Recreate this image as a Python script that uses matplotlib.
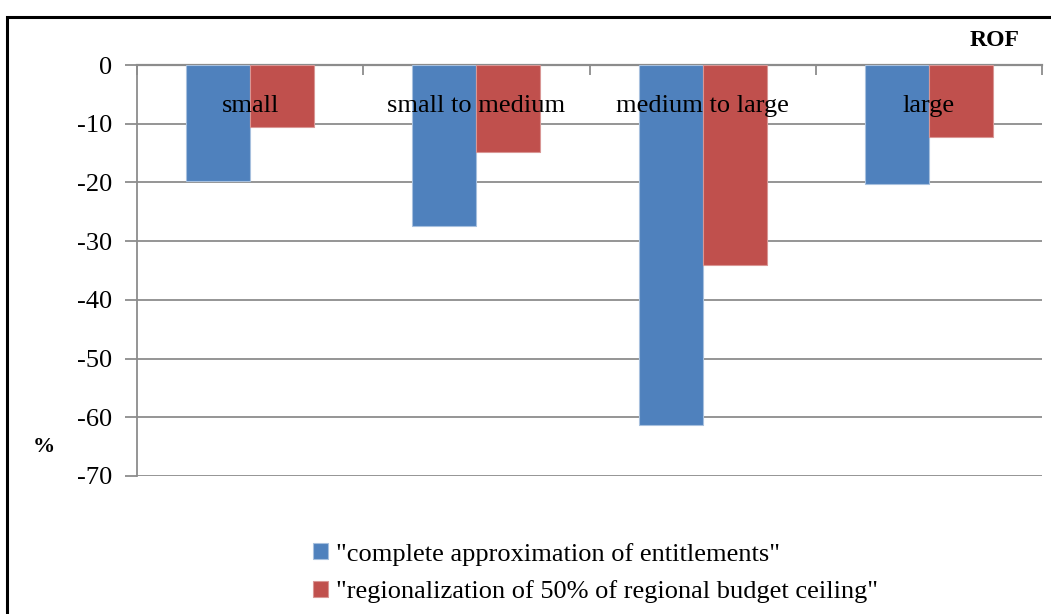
import matplotlib
matplotlib.use("Agg")
import matplotlib.pyplot as plt
import numpy as np
from matplotlib.patches import Rectangle

categories = ["small", "small to medium", "medium to large", "large"]
series_names = ['"complete approximation of entitlements"',
                '"regionalization of 50% of regional budget ceiling"']
complete_approx = [-19.8, -27.4, -61.3, -20.2]
regionalization = [-10.6, -14.9, -34.1, -12.3]
y_ticks = [0, -10, -20, -30, -40, -50, -60, -70]

plt.rcParams["font.family"] = ["Liberation Serif", "DejaVu Serif"]

W, H = 1051, 614
fig = plt.figure(figsize=(W / 100, H / 100), dpi=100)
ax = fig.add_axes([137 / W, 1 - 476 / H, (1042 - 137) / W, (476 - 65) / H])

x = np.arange(len(categories))
bw = 0.283
blue, red = "#4F81BD", "#C0504D"
b1 = ax.bar(x - bw / 2, complete_approx, bw, color=blue, edgecolor="#A7C0DE",
            linewidth=0.8, label=series_names[0], zorder=3)
b2 = ax.bar(x + bw / 2, regionalization, bw, color=red, edgecolor="#D99694",
            linewidth=0.8, label=series_names[1], zorder=3)

ax.set_xlim(-0.5, len(categories) - 0.5)
ax.set_ylim(-70, 0)
ax.set_yticks(y_ticks)
ax.set_yticklabels([str(v) for v in y_ticks], fontsize=19)
ax.yaxis.grid(True, color="#8C8C8C", linewidth=1.3, zorder=0)
ax.set_axisbelow(True)

for s in ["right", "bottom"]:
    ax.spines[s].set_visible(False)
ax.spines["left"].set_color("#8C8C8C")
ax.spines["left"].set_linewidth(1.3)
ax.spines["top"].set_color("#8C8C8C")
ax.spines["top"].set_linewidth(1.6)
ax.tick_params(axis="y", length=9, width=1.3, color="#8C8C8C", pad=9)

# category boundary ticks hanging from the zero line
ax.xaxis.set_ticks_position("top")
ax.set_xticks(np.arange(len(categories) + 1) - 0.5)
ax.set_xticklabels([])
ax.tick_params(axis="x", direction="in", length=7, width=1.3, color="#8C8C8C")

for xi, name in zip(x, categories):
    ax.text(xi, -6.9, name, ha="center", va="center", fontsize=19, zorder=4)

fig.text(995 / W, 1 - 41 / H, "ROF", fontsize=17, fontweight="bold",
         ha="center", va="center")
fig.text(44 / W, 1 - 447 / H, "%", fontsize=16, fontweight="bold",
         ha="center", va="center")

fig.legend(handles=[b1, b2], labels=series_names, loc="upper left",
           bbox_to_anchor=(302 / W, 1 - 532 / H), frameon=False, fontsize=19,
           handlelength=0.6, handleheight=0.55, handletextpad=0.3,
           labelspacing=0.55, borderaxespad=0)

# outer chart frame
fig.add_artist(Rectangle((7 / W, -0.1), 1.2, 1 - 16.5 / H + 0.1,
                         transform=fig.transFigure, fill=False,
                         edgecolor="black", linewidth=2.2))

fig.savefig("out.png", dpi=100)
